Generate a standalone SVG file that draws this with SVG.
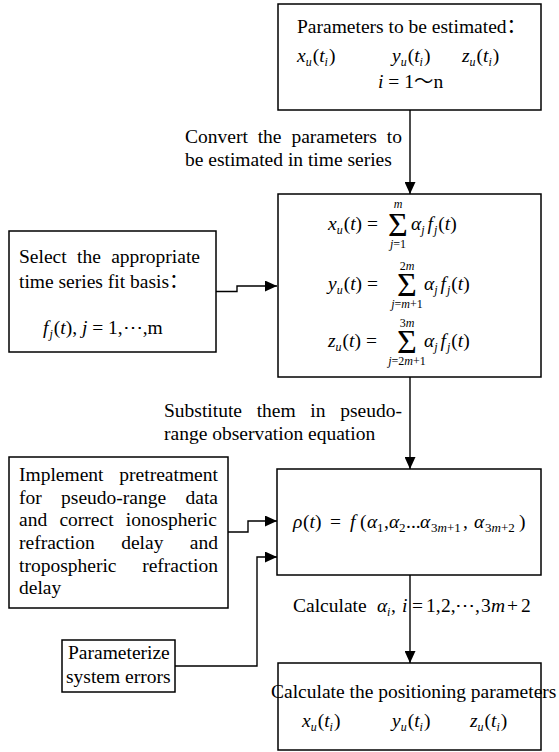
<svg xmlns="http://www.w3.org/2000/svg" width="559" height="752" viewBox="0 0 559 752">
<style>
.t{font-family:"Liberation Serif","Times New Roman","DejaVu Serif",serif;font-size:19.5px;fill:#000}
.cjk{font-family:"Noto Sans CJK SC",sans-serif}
.i{font-style:italic}
.s{font-size:12px}
.s13{font-size:13px}
.sg{font-size:34px}
.box{fill:#fff;stroke:#000;stroke-width:1.5}
.ln{fill:none;stroke:#000;stroke-width:1.4}
</style>
<defs>
<marker id="ar" markerUnits="userSpaceOnUse" markerWidth="12" markerHeight="11" refX="12" refY="5.5" orient="auto">
<path d="M0,0 L12,5.5 L0,11 z" fill="#000"/>
</marker>
</defs>
<rect width="559" height="752" fill="#fff"/>

<g id="connectors">
<path class="ln" d="M410,110 V194" marker-end="url(#ar)"/>
<path class="ln" d="M216,291.5 H237 V286 H277" marker-end="url(#ar)"/>
<path class="ln" d="M410,377 V469" marker-end="url(#ar)"/>
<path class="ln" d="M228,532 H248 V521 H277" marker-end="url(#ar)"/>
<path class="ln" d="M175,666 H257 V557 H277" marker-end="url(#ar)"/>
<path class="ln" d="M410,575 V663" marker-end="url(#ar)"/>
<text class="t" x="185" y="143" word-spacing="5">Convert the parameters to</text>
<text class="t" x="185" y="166">be estimated in time series</text>
<text class="t" x="164" y="417" word-spacing="9.8">Substitute them in pseudo-</text>
<text class="t" x="164" y="440">range observation equation</text>
<text class="t" y="612"><tspan x="293">Calculate</tspan><tspan class="i" x="377">α</tspan><tspan class="s i" dy="4" x="387">i</tspan><tspan dy="-4" x="391">,</tspan><tspan class="i" x="402">i</tspan><tspan x="412">=</tspan><tspan x="426">1,</tspan><tspan x="441">2,</tspan><tspan x="455">⋯,</tspan><tspan x="481">3</tspan><tspan class="i" x="491">m</tspan><tspan x="507">+</tspan><tspan x="521">2</tspan></text>
</g>

<g id="n1">
<rect class="box" x="278" y="4" width="263" height="106" stroke-width="2"/>
<text class="t" x="297" y="33">Parameters to be estimated<tspan class="cjk">：</tspan></text>
<text class="t" x="297" y="62"><tspan class="i">x</tspan><tspan class="s i" dy="4">u</tspan><tspan dy="-4" dx="1">(</tspan><tspan class="i">t</tspan><tspan class="s i" dy="4">i</tspan><tspan dy="-4" dx="1">)</tspan></text>
<text class="t" x="392" y="62"><tspan class="i">y</tspan><tspan class="s i" dy="4">u</tspan><tspan dy="-4" dx="1">(</tspan><tspan class="i">t</tspan><tspan class="s i" dy="4">i</tspan><tspan dy="-4" dx="1">)</tspan></text>
<text class="t" x="462" y="62"><tspan class="i">z</tspan><tspan class="s i" dy="4">u</tspan><tspan dy="-4" dx="1">(</tspan><tspan class="i">t</tspan><tspan class="s i" dy="4">i</tspan><tspan dy="-4" dx="1">)</tspan></text>
<text class="t" x="378" y="88"><tspan class="i">i</tspan> = 1<tspan class="cjk">～</tspan>n</text>
</g>

<g id="n2">
<rect class="box" x="278" y="194" width="263" height="183"/>
<text class="t" x="328" y="230"><tspan class="i">x</tspan><tspan class="s i" dy="4">u</tspan><tspan dy="-4" dx="1">(</tspan><tspan class="i">t</tspan>) =</text>
<text class="t sg" x="398" y="236" text-anchor="middle">Σ</text>
<text class="t s i" x="398" y="208" text-anchor="middle">m</text>
<text class="t s" x="398" y="248" text-anchor="middle"><tspan class="i">j</tspan>=1</text>
<text class="t" x="411" y="230"><tspan class="i">α</tspan><tspan class="s i" dy="4">j</tspan><tspan class="i" dy="-4" dx="3">f</tspan><tspan class="s i" dy="4" dx="1">j</tspan><tspan dy="-4" dx="1">(</tspan><tspan class="i">t</tspan>)</text>

<text class="t" x="328" y="290"><tspan class="i">y</tspan><tspan class="s i" dy="4">u</tspan><tspan dy="-4" dx="1">(</tspan><tspan class="i">t</tspan>) =</text>
<text class="t sg" x="407" y="296" text-anchor="middle">Σ</text>
<text class="t s" x="407" y="270" text-anchor="middle">2<tspan class="i">m</tspan></text>
<text class="t s" x="407" y="308" text-anchor="middle"><tspan class="i">j</tspan>=<tspan class="i">m</tspan>+1</text>
<text class="t" x="424" y="290"><tspan class="i">α</tspan><tspan class="s i" dy="4">j</tspan><tspan class="i" dy="-4" dx="3">f</tspan><tspan class="s i" dy="4" dx="1">j</tspan><tspan dy="-4" dx="1">(</tspan><tspan class="i">t</tspan>)</text>

<text class="t" x="328" y="347"><tspan class="i">z</tspan><tspan class="s i" dy="4">u</tspan><tspan dy="-4" dx="1">(</tspan><tspan class="i">t</tspan>) =</text>
<text class="t sg" x="407" y="353" text-anchor="middle">Σ</text>
<text class="t s" x="407" y="327" text-anchor="middle">3<tspan class="i">m</tspan></text>
<text class="t s" x="407" y="365" text-anchor="middle"><tspan class="i">j</tspan>=2<tspan class="i">m</tspan>+1</text>
<text class="t" x="424" y="347"><tspan class="i">α</tspan><tspan class="s i" dy="4">j</tspan><tspan class="i" dy="-4" dx="3">f</tspan><tspan class="s i" dy="4" dx="1">j</tspan><tspan dy="-4" dx="1">(</tspan><tspan class="i">t</tspan>)</text>
</g>

<g id="n3">
<rect class="box" x="9" y="231" width="207" height="121"/>
<text class="t" x="19" y="263" word-spacing="5.5">Select the appropriate</text>
<text class="t" x="19" y="288">time series fit basis<tspan class="cjk">：</tspan></text>
<text class="t" x="43" y="334"><tspan class="i">f</tspan><tspan class="s i" dy="4" dx="1">j</tspan><tspan dy="-4" dx="1">(</tspan><tspan class="i">t</tspan>), <tspan class="i">j</tspan> = 1,⋯,m</text>
</g>

<g id="n4">
<rect class="box" x="277" y="469" width="264" height="106"/>
<text class="t" y="528"><tspan class="i" x="293">ρ</tspan><tspan x="303">(</tspan><tspan class="i">t</tspan><tspan>)</tspan><tspan x="330">=</tspan><tspan class="i" x="350">f</tspan><tspan x="360">(</tspan><tspan class="i" x="367">α</tspan><tspan class="s13" dy="4" x="377">1</tspan><tspan dy="-4" x="384">,</tspan><tspan class="i" x="389">α</tspan><tspan class="s13" dy="4" x="399">2</tspan><tspan dy="-4" x="406">...</tspan><tspan class="i" x="420">α</tspan><tspan class="s13" dy="4" x="431">3<tspan class="i">m</tspan>+1</tspan><tspan dy="-4" x="463">,</tspan><tspan class="i" x="474">α</tspan><tspan class="s13" dy="4" x="485">3<tspan class="i">m</tspan>+2</tspan><tspan dy="-4" x="519">)</tspan></text>
</g>

<g id="n5">
<rect class="box" x="9" y="457" width="219" height="151"/>
<text class="t" x="19" y="481" word-spacing="11">Implement pretreatment</text>
<text class="t" x="19" y="504" word-spacing="14.5">for pseudo-range data</text>
<text class="t" x="19" y="526" word-spacing="7.4">and correct ionospheric</text>
<text class="t" x="19" y="549" word-spacing="21.5">refraction delay and</text>
<text class="t" x="19" y="572" word-spacing="20.8">tropospheric refraction</text>
<text class="t" x="19" y="594">delay</text>
</g>

<g id="n6">
<rect class="box" x="62" y="640" width="113" height="52"/>
<text class="t" x="68" y="659">Parameterize</text>
<text class="t" x="66" y="683">system errors</text>
</g>

<g id="n7">
<rect class="box" x="278" y="663" width="263" height="87"/>
<text class="t" x="271" y="698">Calculate the positioning parameters</text>
<text class="t" x="302" y="727"><tspan class="i">x</tspan><tspan class="s i" dy="4">u</tspan><tspan dy="-4" dx="1">(</tspan><tspan class="i">t</tspan><tspan class="s i" dy="4">i</tspan><tspan dy="-4" dx="1">)</tspan></text>
<text class="t" x="392" y="727"><tspan class="i">y</tspan><tspan class="s i" dy="4">u</tspan><tspan dy="-4" dx="1">(</tspan><tspan class="i">t</tspan><tspan class="s i" dy="4">i</tspan><tspan dy="-4" dx="1">)</tspan></text>
<text class="t" x="470" y="727"><tspan class="i">z</tspan><tspan class="s i" dy="4">u</tspan><tspan dy="-4" dx="1">(</tspan><tspan class="i">t</tspan><tspan class="s i" dy="4">i</tspan><tspan dy="-4" dx="1">)</tspan></text>
</g>
</svg>
